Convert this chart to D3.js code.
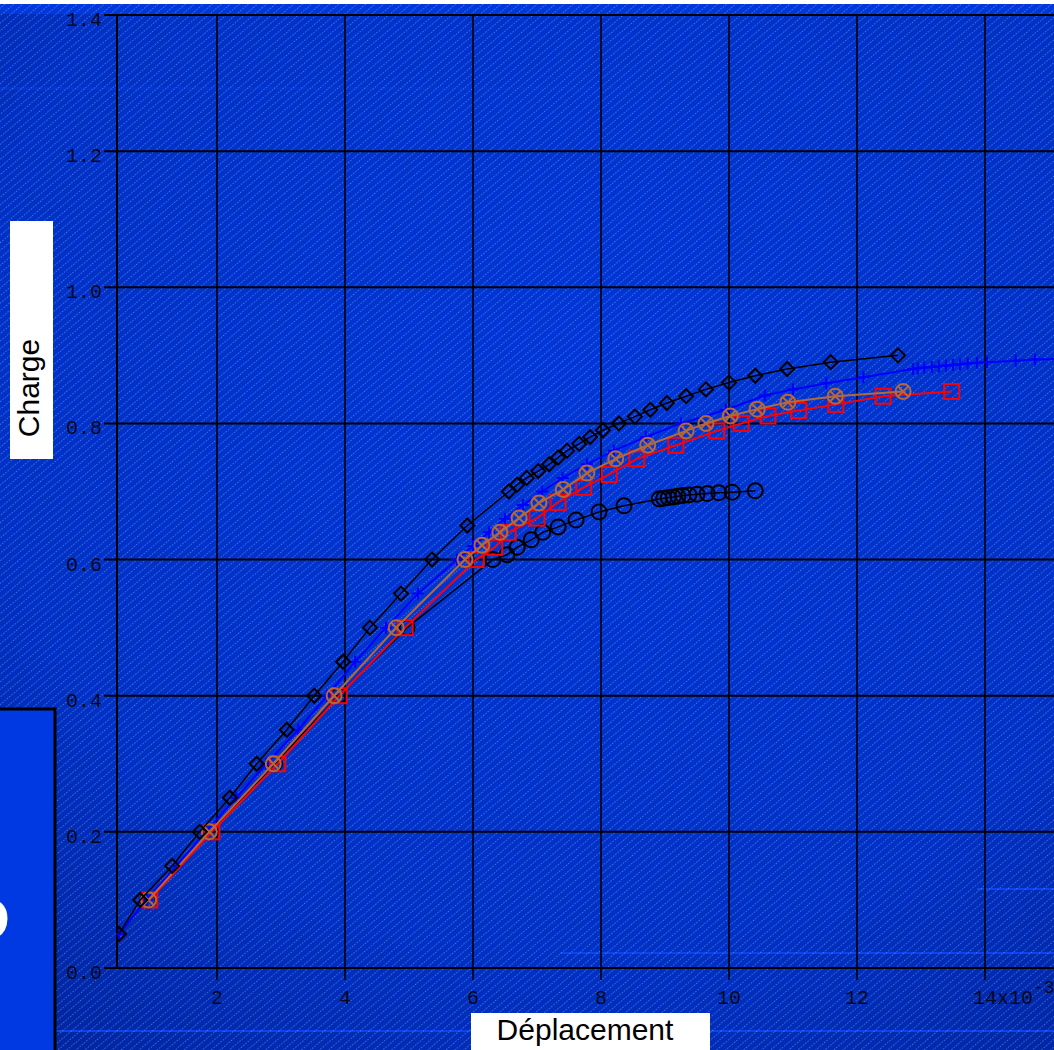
<!DOCTYPE html>
<html>
<head>
<meta charset="utf-8">
<script src="https://cdn.jsdelivr.net/npm/d3@7"></script>
<style>
  html, body { margin: 0; padding: 0; background: #ffffff; }
  #chart { width: 1054px; height: 1050px; }
</style>
</head>
<body>
<div id="chart"></div>
<script>
// values (x in 10^-3 units)
const yTicks = [0.0, 0.2, 0.4, 0.6, 0.8, 1.0, 1.2, 1.4];
const xTicks = [2, 4, 6, 8, 10, 12, 14];

const diamondSeries = [
  [0.47, 0.05], [0.80, 0.10], [1.30, 0.15], [1.73, 0.20], [2.20, 0.25], [2.62, 0.30],
  [3.09, 0.35], [3.52, 0.40], [3.97, 0.45], [4.39, 0.50], [4.875, 0.55], [5.36, 0.60],
  [5.91, 0.65], [6.56, 0.70], [6.69, 0.71], [6.84, 0.72], [7.02, 0.73], [7.19, 0.74],
  [7.33, 0.75], [7.47, 0.76], [7.66, 0.77], [7.83, 0.78], [8.03, 0.79], [8.28, 0.80],
  [8.53, 0.81], [8.77, 0.82], [9.03, 0.83], [9.33, 0.84], [9.64, 0.85], [10.0, 0.86],
  [10.41, 0.87], [10.91, 0.88], [11.59, 0.89], [12.64, 0.90]
];

const plusSeries = [
  [0.47, 0.05], [0.90, 0.10], [1.37, 0.15], [1.82, 0.20], [2.30, 0.25], [2.77, 0.30],
  [3.27, 0.35], [3.72, 0.40], [4.16, 0.45], [4.64, 0.50], [5.14, 0.55], [5.75, 0.60],
  [6.00, 0.62], [6.25, 0.64], [6.50, 0.66], [6.78, 0.68], [7.08, 0.70], [7.40, 0.72],
  [7.78, 0.74], [8.20, 0.76], [8.70, 0.78], [9.25, 0.80], [9.95, 0.82], [10.56, 0.841],
  [11.00, 0.850], [11.52, 0.859], [12.10, 0.868], [12.875, 0.880], [12.95, 0.881],
  [13.05, 0.882], [13.17, 0.883], [13.28, 0.884], [13.39, 0.885], [13.50, 0.886],
  [13.61, 0.887], [13.73, 0.888], [13.875, 0.889], [14.03, 0.890], [14.48, 0.892],
  [14.78, 0.894], [15.20, 0.895]
];

const squareSeries = [
  [0.95, 0.10], [1.92, 0.20], [2.95, 0.30], [3.91, 0.40], [4.94, 0.50], [6.05, 0.600],
  [6.34, 0.618], [6.55, 0.640], [7.00, 0.661], [7.33, 0.684], [7.73, 0.706], [8.13, 0.725],
  [8.56, 0.748], [9.17, 0.768], [9.81, 0.789], [10.19, 0.800], [10.61, 0.811],
  [11.09, 0.819], [11.67, 0.828], [12.41, 0.840], [13.48, 0.847]
];

const crossSeries = [
  [0.93, 0.10], [1.88, 0.20], [2.88, 0.30], [3.83, 0.40], [4.80, 0.50], [5.875, 0.600],
  [6.14, 0.621], [6.42, 0.640], [6.72, 0.661], [7.03, 0.683], [7.41, 0.703], [7.78, 0.727],
  [8.23, 0.748], [8.73, 0.768], [9.33, 0.789], [9.64, 0.800], [10.02, 0.811],
  [10.44, 0.821], [10.92, 0.831], [11.66, 0.840], [12.72, 0.847]
];

const circleSeries = [
  [0.92, 0.10], [1.90, 0.20], [2.90, 0.30], [3.90, 0.40], [4.97, 0.50], [6.31, 0.600],
  [6.53, 0.607], [6.69, 0.618], [6.91, 0.629], [7.09, 0.640], [7.33, 0.648], [7.61, 0.658],
  [7.97, 0.670], [8.36, 0.679], [8.91, 0.689], [8.98, 0.690], [9.05, 0.691], [9.13, 0.692],
  [9.20, 0.693], [9.28, 0.694], [9.375, 0.695], [9.50, 0.696], [9.66, 0.697], [9.84, 0.698],
  [10.05, 0.699], [10.41, 0.701]
];

const W = 1054, H = 1050;
const plot = { left: 117, top: 15, right: 1081, bottom: 968 };

const svg = d3.select('#chart').append('svg')
  .attr('width', W).attr('height', H);

const defs = svg.append('defs');

// blue backdrop with a faint diagonal hatch
const grad = defs.append('radialGradient').attr('id', 'bg')
  .attr('cx', '55%').attr('cy', '35%').attr('r', '80%');
grad.append('stop').attr('offset', '0%').attr('stop-color', '#0036d8');
grad.append('stop').attr('offset', '70%').attr('stop-color', '#0031c6');
grad.append('stop').attr('offset', '100%').attr('stop-color', '#0026a4');

const hatch = defs.append('pattern').attr('id', 'hatch')
  .attr('patternUnits', 'userSpaceOnUse')
  .attr('width', 12).attr('height', 5.8)
  .attr('patternTransform', 'rotate(-40)');
hatch.append('line')
  .attr('x1', 0).attr('y1', 0.5).attr('x2', 12).attr('y2', 0.5)
  .attr('stroke', '#ffffff').attr('stroke-opacity', 0.3)
  .attr('stroke-width', 1).attr('stroke-dasharray', '1.5,1.5');

defs.append('clipPath').attr('id', 'plotClip')
  .append('rect')
  .attr('x', plot.left).attr('y', plot.top - 10)
  .attr('width', plot.right - plot.left).attr('height', plot.bottom - plot.top + 10);

svg.append('rect').attr('x', 0).attr('y', 4).attr('width', W).attr('height', H - 4)
  .attr('fill', 'url(#bg)');
svg.append('rect').attr('x', 0).attr('y', 4).attr('width', W).attr('height', 10)
  .attr('fill', '#0038dc');

// scan-line artefacts of the original capture
const bands = [
  { x: 0, y: 87, w: 630, h: 3, c: '#0036d4' },
  { x: 977, y: 888, w: 77, h: 2, c: '#0a44f0' },
  { x: 560, y: 952, w: 494, h: 2, c: '#0a44f0' },
  { x: 0, y: 1030, w: 1054, h: 2, c: '#0a44f0' }
];
svg.selectAll('rect.band').data(bands).join('rect').attr('class', 'band')
  .attr('x', d => d.x).attr('y', d => d.y).attr('width', d => d.w).attr('height', d => d.h)
  .attr('fill', d => d.c);

svg.append('rect').attr('x', 0).attr('y', 4).attr('width', W).attr('height', H - 4)
  .attr('fill', 'url(#hatch)');

const x = d3.scaleLinear().domain([0.4375, 15.5]).range([plot.left, plot.right]);
const y = d3.scaleLinear().domain([0, 1.4]).range([plot.bottom, plot.top]);

// grid
const grid = svg.append('g');
grid.selectAll('line.h').data(yTicks).join('line').attr('class', 'h')
  .attr('x1', plot.left - 13).attr('x2', W)
  .attr('y1', d => y(d)).attr('y2', d => y(d))
  .attr('stroke', '#000').attr('stroke-width', 2);
grid.selectAll('line.v').data(xTicks).join('line').attr('class', 'v')
  .attr('x1', d => x(d)).attr('x2', d => x(d))
  .attr('y1', plot.top).attr('y2', plot.bottom + 12)
  .attr('stroke', '#000').attr('stroke-width', 1.6);
grid.append('line')
  .attr('x1', plot.left).attr('x2', plot.left)
  .attr('y1', plot.top).attr('y2', plot.bottom)
  .attr('stroke', '#000').attr('stroke-width', 2);

// tick labels
const labelFont = '"Liberation Mono", "DejaVu Sans Mono", monospace';
svg.append('g').selectAll('text').data(yTicks).join('text')
  .attr('x', 102).attr('y', d => y(d) + 11)
  .attr('text-anchor', 'end')
  .style('font-family', labelFont).style('font-size', '20px')
  .style('fill', '#080820')
  .text(d3.format('.1f'));

svg.append('g').selectAll('text').data(xTicks.filter(d => d !== 14)).join('text')
  .attr('x', d => x(d)).attr('y', 1004)
  .attr('text-anchor', 'middle')
  .style('font-family', labelFont).style('font-size', '20px')
  .style('fill', '#080820')
  .text(d => d);
// last tick carries the scale factor
const last = svg.append('text')
  .attr('x', x(14) - 12).attr('y', 1004)
  .style('font-family', labelFont).style('font-size', '20px')
  .style('fill', '#080820');
last.append('tspan').text('14x10');
last.append('tspan').attr('dy', -11).style('font-size', '18px').text('-3');

// axis titles in white boxes
svg.append('rect').attr('x', 10).attr('y', 221).attr('width', 43).attr('height', 238)
  .attr('fill', '#ffffff');
svg.append('text')
  .attr('transform', 'translate(39,388) rotate(-90)')
  .attr('text-anchor', 'middle')
  .style('font-family', '"Liberation Sans", Arial, sans-serif')
  .style('font-size', '30px').style('fill', '#000')
  .text('Charge');

svg.append('rect').attr('x', 471).attr('y', 1013).attr('width', 239).attr('height', 40)
  .attr('fill', '#ffffff');
svg.append('text')
  .attr('x', 585).attr('y', 1040)
  .attr('text-anchor', 'middle')
  .style('font-family', '"Liberation Sans", Arial, sans-serif')
  .style('font-size', '30px').style('fill', '#000')
  .text('Déplacement');

// stray panel at the lower left
svg.append('rect').attr('x', -4).attr('y', 709).attr('width', 59).attr('height', 350)
  .attr('fill', '#0038e2').attr('stroke', '#000').attr('stroke-width', 3);
svg.append('text')
  .attr('x', 10).attr('y', 940).attr('text-anchor', 'end')
  .style('font-family', '"Liberation Sans", Arial, sans-serif')
  .style('font-weight', 'bold').style('font-size', '62px').style('fill', '#fff')
  .text('D');

// series
const marks = svg.append('g').attr('clip-path', 'url(#plotClip)');
const line = d3.line().x(d => x(d[0])).y(d => y(d[1]));

function drawSeries(data, color, width, marker) {
  const g = marks.append('g');
  g.append('path').datum(data).attr('d', line)
    .attr('fill', 'none').attr('stroke', color).attr('stroke-width', width);
  const pts = g.selectAll('g').data(data).join('g')
    .attr('transform', d => `translate(${x(d[0])},${y(d[1])})`);
  marker(pts, color);
}

const circleMarker = (sel, c) => sel.append('circle').attr('r', 7.5)
  .attr('fill', 'none').attr('stroke', c).attr('stroke-width', 2);
const squareMarker = (sel, c) => sel.append('rect')
  .attr('x', -7.5).attr('y', -7.5).attr('width', 15).attr('height', 15)
  .attr('fill', 'none').attr('stroke', c).attr('stroke-width', 2);
const plusMarker = (sel, c) => sel.append('path').attr('d', 'M-6,0H6M0,-6V6')
  .attr('stroke', c).attr('stroke-width', 2);
const crossMarker = (sel, c) => {
  sel.append('circle').attr('r', 7.5).attr('fill', 'none')
    .attr('stroke', c).attr('stroke-width', 2);
  sel.append('path').attr('d', 'M-5.3,-5.3L5.3,5.3M-5.3,5.3L5.3,-5.3')
    .attr('stroke', c).attr('stroke-width', 2);
};
const diamondMarker = (sel, c) => sel.append('path').attr('d', 'M0,-7L7,0L0,7L-7,0Z')
  .attr('fill', 'none').attr('stroke', c).attr('stroke-width', 2);

drawSeries(circleSeries, '#000000', 1.5, circleMarker);
drawSeries(plusSeries, '#0000ff', 2, plusMarker);
drawSeries(squareSeries, '#ff0000', 2, squareMarker);
drawSeries(crossSeries, '#b5683a', 2, crossMarker);
drawSeries(diamondSeries, '#000000', 1.5, diamondMarker);
</script>
</body>
</html>
